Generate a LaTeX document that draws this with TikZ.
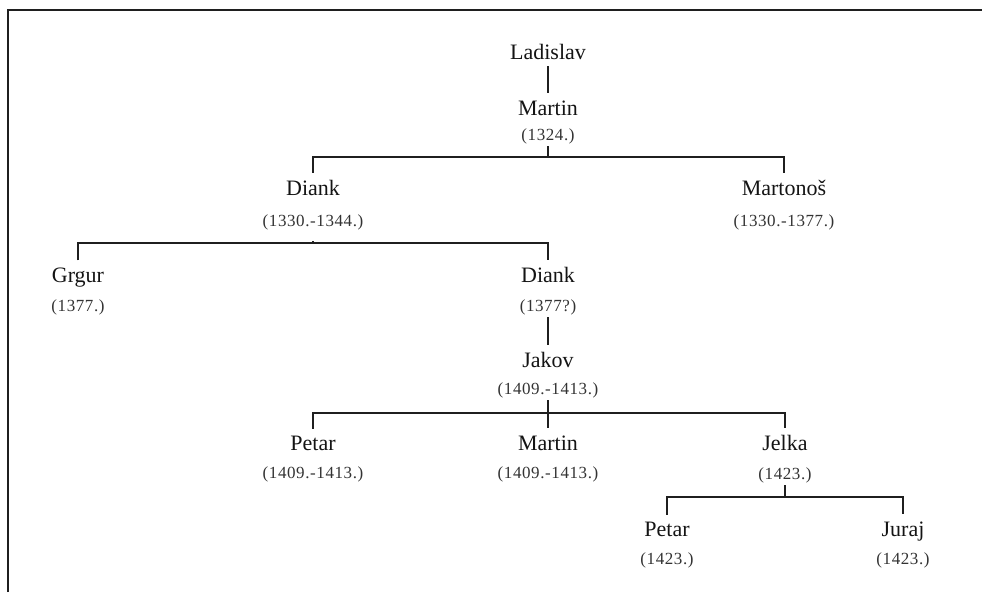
\documentclass[tikz,border=0pt]{standalone}
\usepackage{fontspec}
\setmainfont{Liberation Serif}
\begin{document}
\begin{tikzpicture}[x=1pt,y=-1pt,
  nm/.style={anchor=base, inner sep=0pt, outer xsep=0pt, outer ysep=7pt, text=black!92,
    font=\fontsize{22}{22}\selectfont},
  dt/.style={anchor=base, inner sep=0pt, outer xsep=0pt, outer ysep=2.5pt, text=black!80,
    font=\fontsize{17}{17}\selectfont\addfontfeature{LetterSpace=3.5}},
  conn/.style={line width=2pt, draw=black!88}]
\useasboundingbox (0,0) rectangle (982,592);
\draw[conn] (8,592) -- (8,10) -- (982,10);
% people
\node[nm] (lad) at (548,59) {Ladislav};
\node[nm] (mar) at (548,115) {Martin};
\node[dt] (marD) at (548,140) {(1324.)};
\node[nm] (dia) at (313,195) {Diank};
\node[dt] (diaD) at (313,226) {(1330.-1344.)};
\node[nm] (mtn) at (784,195) {Martonoš};
\node[dt] (mtnD) at (784,226) {(1330.-1377.)};
\node[nm] (grg) at (78,282) {Grgur};
\node[dt] (grgD) at (78,311) {(1377.)};
\node[nm] (dia2) at (548,282) {Diank};
\node[dt] (dia2D) at (548,311) {(1377?)};
\node[nm] (jak) at (548,367) {Jakov};
\node[dt] (jakD) at (548,394) {(1409.-1413.)};
\node[nm] (pet) at (313,450) {Petar};
\node[dt] (petD) at (313,478) {(1409.-1413.)};
\node[nm] (mar2) at (548,450) {Martin};
\node[dt] (mar2D) at (548,478) {(1409.-1413.)};
\node[nm] (jel) at (785,450) {Jelka};
\node[dt] (jelD) at (785,479) {(1423.)};
\node[nm] (pet2) at (667,536) {Petar};
\node[dt] (pet2D) at (667,564) {(1423.)};
\node[nm] (jur) at (903,536) {Juraj};
\node[dt] (jurD) at (903,564) {(1423.)};
% bar coordinates
\coordinate (b1) at (548,157);
\coordinate (b2) at (313,243);
\coordinate (b3) at (548,413);
\coordinate (b4) at (785,497);
% connectors
\draw[conn] (lad) -- (mar);
\draw[conn] (marD) -- (b1);
\draw[conn] (dia) |- (b1) -| (mtn);
\draw[conn] ([yshift=-9pt]diaD.south) -- (b2);
\draw[conn] (grg) |- (b2) -| (dia2);
\draw[conn] (dia2D) -- (jak);
\draw[conn] (jakD) -- (b3) -- (mar2);
\draw[conn] (pet) |- (b3) -| (jel);
\draw[conn] (jelD) -- (b4);
\draw[conn] (pet2) |- (b4) -| (jur);
\end{tikzpicture}
\end{document}
